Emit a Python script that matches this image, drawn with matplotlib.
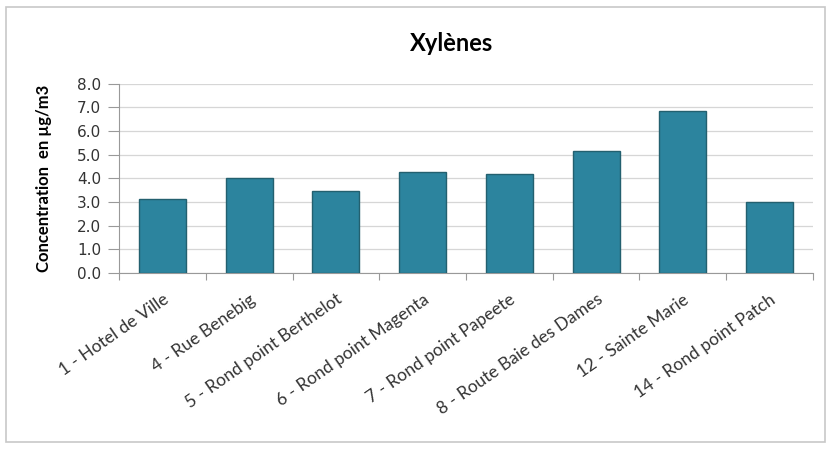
import numpy as np
import matplotlib.pyplot as plt
from matplotlib.patches import Rectangle

sites = ['1 - Hotel de Ville', '4 - Rue Benebig', '5 - Rond point Berthelot',
         '6 - Rond point Magenta', '7 - Rond point Papeete',
         '8 - Route Baie des Dames', '12 - Sainte Marie', '14 - Rond point Patch']
xylenes = [3.15, 4.04, 3.47, 4.27, 4.18, 5.14, 6.84, 3.01]
yticks = [0.0, 1.0, 2.0, 3.0, 4.0, 5.0, 6.0, 7.0, 8.0]

plt.rcParams['font.family'] = ['Lato', 'DejaVu Sans']

fig = plt.figure(figsize=(8.27, 4.53), dpi=100)
fig.patches.append(Rectangle((0.007, 0.024), 0.99, 0.96, transform=fig.transFigure,
                             fill=False, edgecolor='#c8c8c8', linewidth=1.2))

ax = fig.add_axes([0.144, 0.397, 0.839, 0.418])
x = np.arange(len(sites))
ax.bar(x, xylenes, width=0.54, color='#2c849e', edgecolor='#23606f', linewidth=1, zorder=3)

ax.set_xlim(-0.5, len(sites) - 0.5)
ax.set_ylim(0, 8)
ax.set_yticks(yticks)
ax.set_yticklabels([f'{v:.1f}' for v in yticks], fontsize=11, color='#333333',
                   family='DejaVu Sans')
ax.yaxis.grid(True, color='#d6d6d6', linewidth=0.9, zorder=0)

# category separators as ticks, labels on the bar centres
ax.set_xticks(np.arange(len(sites) + 1) - 0.5)
ax.set_xticklabels([])
ax.set_xticks(x, minor=True)
ax.set_xticklabels(sites, minor=True, rotation=35, ha='right', rotation_mode='anchor',
                   fontsize=12.5, color='#333333')
ax.tick_params(axis='x', which='minor', length=0, pad=13)
ax.tick_params(axis='x', which='major', length=5, color='#999999', direction='out')
ax.tick_params(axis='y', length=8, color='#999999', pad=5)

for side in ['top', 'right']:
    ax.spines[side].set_visible(False)
for side in ['left', 'bottom']:
    ax.spines[side].set_color('#999999')

ax.set_ylabel('Concentration  en µg/m3', fontsize=12, fontweight='bold', labelpad=18)
fig.text(0.546, 0.905, 'Xylènes', ha='center', va='center', fontsize=17, fontweight='bold')

fig.savefig('out.png', dpi=100)
